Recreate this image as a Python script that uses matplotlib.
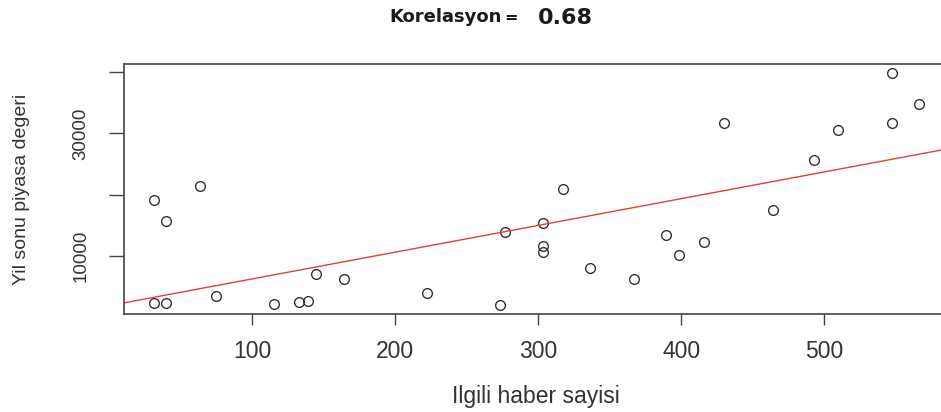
import numpy as np
import matplotlib
matplotlib.use("Agg")
import matplotlib.pyplot as plt

# Data
haber = [31.5, 39.6, 63.9, 31.5, 39.6, 74.8, 115.4, 132.9, 139.4, 144.8,
         164.1, 222.6, 273.2, 277.2, 303.3, 303.3, 303.3, 317.5, 336.6, 367.4,
         389.5, 398.6, 415.8, 429.8, 464.3, 493.0, 509.8, 547.1, 547.1, 566.2]
deger = [19100, 15690, 21400, 2240, 2240, 3380, 2070, 2400, 2660, 7030,
         6210, 3970, 1910, 13940, 15360, 11600, 10570, 20870, 8000, 6260,
         13340, 10180, 12250, 31700, 17480, 25600, 30500, 31750, 39920, 34850]
x_ticks = [100, 200, 300, 400, 500]
y_ticks = [10000, 20000, 30000, 40000]
y_tick_labels = ["10000", "", "30000", ""]
korelasyon = "0.68"

W, H = 941, 412
fig = plt.figure(figsize=(W / 100, H / 100), dpi=100)
ax = fig.add_axes([124 / W, 1 - 314 / H, (950 - 124) / W, (314 - 64) / H])

x = np.array(haber)
y = np.array(deger)
ax.plot(x, y, linestyle="none", marker="o", markersize=7, markerfacecolor="none",
        markeredgecolor="#333333", markeredgewidth=1.0)

slope, intercept = np.polyfit(x, y, 1)
xl = np.array([-100, 800])
ax.plot(xl, intercept + slope * xl, color="#e0403c", linewidth=1.0)

ax.set_xlim(10.5, 588)
ax.set_ylim(490, 41340)

ax.set_xticks(x_ticks)
ax.set_xticklabels([str(t) for t in x_ticks], fontfamily="Liberation Sans", fontsize=16.5, color="#333333")
ax.set_yticks(y_ticks)
ax.set_yticklabels(y_tick_labels, rotation=90, va="center", fontfamily="Liberation Sans",
                   fontsize=13.5, color="#333333")
ax.tick_params(axis="x", length=8, width=1, color="#444444", pad=11)
ax.tick_params(axis="y", length=11, width=1, color="#444444", pad=14)

for s in ax.spines.values():
    s.set_color("#444444")
    s.set_linewidth(1.2)

fig.text(536 / W, 1 - 397 / H, "Ilgili haber sayisi", ha="center", va="center",
         fontfamily="Liberation Sans", fontsize=16.5, color="#333333")
fig.text(22 / W, 1 - 189 / H, "Yil sonu piyasa degeri", ha="center", va="center", rotation=90,
         fontfamily="Liberation Sans", fontsize=14, color="#333333")

fig.text(502 / W, 1 - 22 / H, "Korelasyon", ha="right", va="baseline",
         fontfamily="DejaVu Sans", fontweight="bold", fontsize=13, color="#1a1a1a")
fig.text(511 / W, 1 - 22 / H, "=", ha="center", va="baseline",
         fontfamily="DejaVu Sans", fontweight="bold", fontsize=11.5, color="#1a1a1a")
fig.text(538 / W, 1 - 24 / H, korelasyon, ha="left", va="baseline",
         fontfamily="DejaVu Sans", fontweight="bold", fontsize=16, color="#1a1a1a")

fig.savefig("out.png", dpi=100, facecolor="white")
